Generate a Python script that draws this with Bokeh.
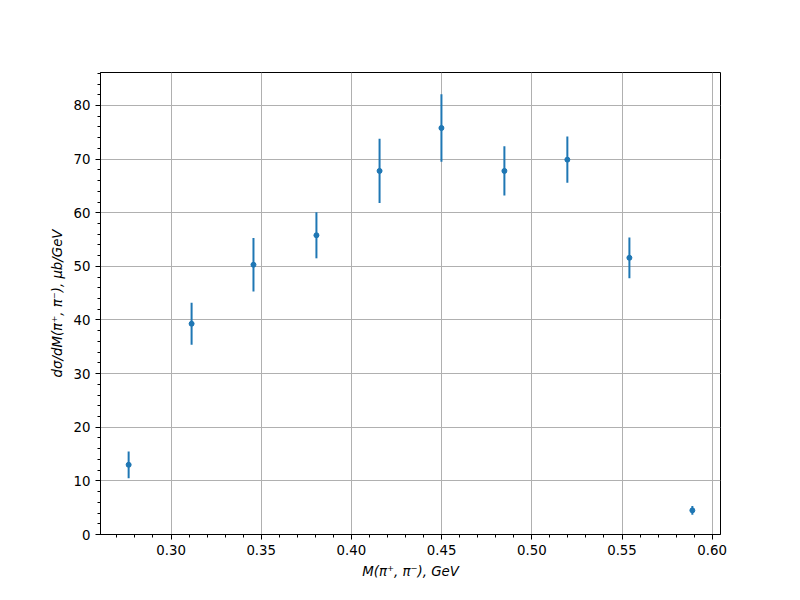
from bokeh.plotting import figure
from bokeh.models import Range1d, SingleIntervalTicker, ColumnDataSource, NumeralTickFormatter
from bokeh.embed import file_html
from bokeh.resources import INLINE

# data
mass = [0.2765, 0.3114, 0.3457, 0.3806, 0.4156, 0.4499, 0.4848, 0.5197, 0.5541, 0.5890]
xsec = [13.0, 39.3, 50.3, 55.8, 67.8, 75.8, 67.8, 69.9, 51.6, 4.5]
err = [2.5, 3.9, 5.0, 4.3, 6.0, 6.3, 4.6, 4.3, 3.8, 0.8]

x_label = "M(π⁺, π⁻), GeV"
y_label = "dσ/dM(π⁺, π⁻), μb/GeV"

lower = [v - e for v, e in zip(xsec, err)]
upper = [v + e for v, e in zip(xsec, err)]
src = ColumnDataSource(dict(x=mass, y=xsec, lo=lower, hi=upper))

BLUE = "#1f77b4"
FONT = "DejaVu Sans"

p = figure(width=784, height=584, output_backend="svg", toolbar_location=None,
           x_range=Range1d(0.2609, 0.6046), y_range=Range1d(0, 86.15),
           min_border_left=100, min_border_right=64, min_border_top=72, min_border_bottom=50)

p.segment(x0="x", y0="lo", x1="x", y1="hi", source=src, line_color=BLUE, line_width=2)
p.scatter(x="x", y="y", source=src, size=5, color=BLUE)

p.xaxis.ticker = SingleIntervalTicker(interval=0.05, num_minor_ticks=5)
p.yaxis.ticker = SingleIntervalTicker(interval=10, num_minor_ticks=5)
p.xaxis.formatter = NumeralTickFormatter(format="0.00")

for ax in (p.xaxis[0], p.yaxis[0]):
    ax.axis_line_color = "black"
    ax.axis_line_width = 1
    ax.major_tick_in = 0
    ax.major_tick_out = 5
    ax.minor_tick_in = 0
    ax.minor_tick_out = 3
    ax.major_tick_line_color = "black"
    ax.minor_tick_line_color = "black"
    ax.major_label_text_font = FONT
    ax.major_label_text_font_size = "13.33px"
    ax.major_label_text_color = "black"
    ax.major_label_standoff = 5
    ax.axis_label_text_font = FONT
    ax.axis_label_text_font_size = "13.33px"
    ax.axis_label_text_font_style = "italic"
    ax.axis_label_text_color = "black"
    ax.axis_label_standoff = 6

p.xaxis.axis_label = x_label
p.yaxis.axis_label = y_label

p.xgrid.grid_line_color = "#b0b0b0"
p.ygrid.grid_line_color = "#b0b0b0"
p.xgrid.grid_line_width = 1
p.ygrid.grid_line_width = 1

p.outline_line_color = "black"
p.outline_line_width = 1
p.outline_line_alpha = 1
p.background_fill_color = "white"
p.border_fill_color = "white"

open("out.html", "w").write(file_html(p, INLINE))
